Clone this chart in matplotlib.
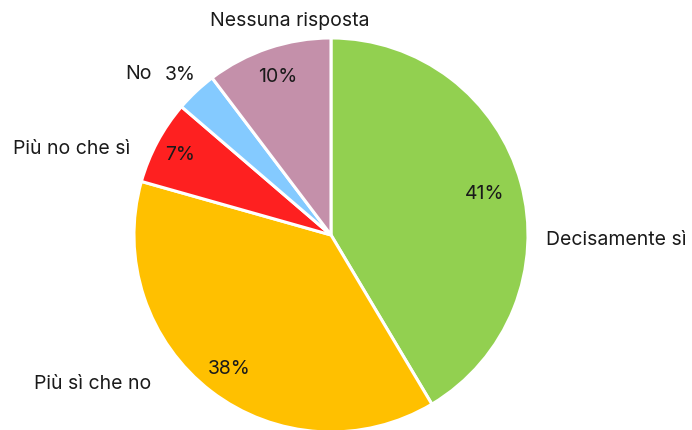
import numpy as np
import matplotlib
matplotlib.use('Agg')
import matplotlib.pyplot as plt

# dati (percentuali)
categorie = ['Decisamente sì', 'Più sì che no', 'Più no che sì', 'No', 'Nessuna risposta']
valori = [41.4, 37.9, 6.9, 3.4, 10.3]
colori = ['#92D050', '#FFC000', '#FE2020', '#84CAFF', '#C490AA']

# layout delle etichette (coordinate del grafico, raggio = 1)
pos_etichette = [(1.09, -0.02, 'left'), (-0.91, -0.75, 'right'), (-1.02, 0.44, 'right'),
                 (-0.91, 0.82, 'right'), (-0.21, 1.09, 'center')]
dist_pct = [0.81, 0.85, 0.87, 1.12, 0.85]

plt.rcParams['font.family'] = ['Inter', 'DejaVu Sans']

fig = plt.figure(figsize=(6.92, 4.31), dpi=100)
ax = fig.add_axes([0.1936, -0.0046, 0.5694, 0.9142])

wedges, _ = ax.pie(valori, colors=colori, startangle=90, counterclock=False,
                   wedgeprops={'edgecolor': 'white', 'linewidth': 2.2})

tot = sum(valori)
for w, v, d in zip(wedges, valori, dist_pct):
    mid = np.deg2rad((w.theta1 + w.theta2) / 2)
    ax.text(d * np.cos(mid), d * np.sin(mid), f'{v / tot * 100:.0f}%',
            ha='center', va='center', fontsize=14, color='#1a1a1a')

for nome, (x, y, ha) in zip(categorie, pos_etichette):
    ax.text(x, y, nome, ha=ha, va='center', fontsize=14, color='#1a1a1a')

ax.set_xlim(-1, 1)
ax.set_ylim(-1, 1)
ax.set_aspect('equal')
ax.axis('off')

fig.savefig('out.png', dpi=100)
